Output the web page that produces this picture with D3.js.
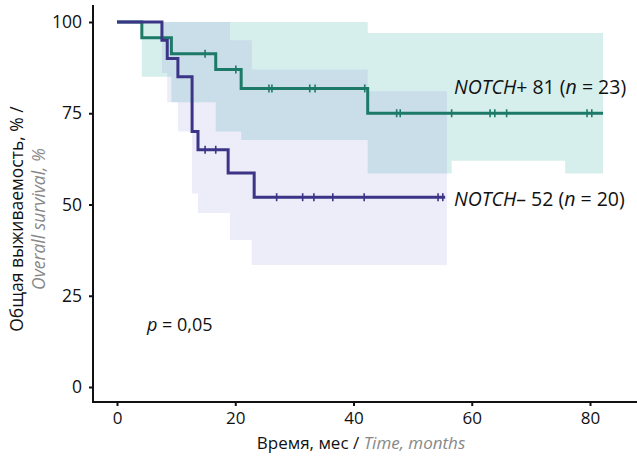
<!DOCTYPE html>
<html>
<head>
<meta charset="utf-8">
<script src="https://cdn.jsdelivr.net/npm/d3@7"></script>
<style>
  body { margin: 0; background: #fff; }
  svg { display: block; font-family: "Open Sans", sans-serif; }
</style>
</head>
<body>
<svg width="637" height="460"></svg>
<script>
// NOTCH+ curve (months, survival %)
const posTimes = [0, 4.2, 9.2, 16.7, 21, 42.4, 82.2];
const posSurv = [100, 95.7, 91.3, 87, 81.8, 75, 75];
const posCensor = [14.9, 20.1, 25.7, 26.2, 32.6, 33.5, 41.9, 47.3, 47.9, 56.6, 63.1, 63.9, 65.9, 79.5, 80.3];
// NOTCH- curve
const negTimes = [0, 7.6, 8.5, 10.3, 12.7, 13.7, 18.8, 23.2, 55.5];
const negSurv = [100, 95, 90, 85, 70, 65, 58.6, 52, 52];
const negCensor = [14.9, 16.7, 27, 31.4, 33.3, 36.5, 41.8, 54.3, 55.1];

// confidence bands (step starts)
const posBandTimes = [4.2, 9.2, 16.7, 21, 42.4, 56.6, 75.8, 82.2];
const posBandLow = [85, 78, 70, 67.7, 58.5, 62, 58.5, 58.5];
const posBandHigh = [100, 100, 100, 100, 97, 97, 97, 97];
const negBandTimes = [7.6, 8.5, 10.3, 12.7, 13.7, 19.1, 22.8, 42.4, 55.8];
const negBandLow = [86, 78, 70, 53, 47.7, 40.3, 33.4, 33.4, 33.4];
const negBandHigh = [100, 100, 100, 100, 100, 95, 87, 81, 81];

const xTicks = [0, 20, 40, 60, 80];
const yTicks = [0, 25, 50, 75, 100];

const svg = d3.select('svg');

const x = d3.scaleLinear().domain([0, 80]).range([117, 590]);
const y = d3.scaleLinear().domain([0, 100]).range([387, 22]);

const toPts = (ts, vs) => ts.map((t, i) => ({ t: t, v: vs[i] }));
const toBand = (ts, lo, hi) => ts.map((t, i) => ({ t: t, lo: lo[i], hi: hi[i] }));

const band = d3.area()
    .x(d => x(d.t))
    .y0(d => y(d.lo))
    .y1(d => y(d.hi))
    .curve(d3.curveStepAfter);

svg.append('path')
    .datum(toBand(posBandTimes, posBandLow, posBandHigh))
    .attr('d', band)
    .attr('fill', '#d6efec');

svg.append('path')
    .datum(toBand(negBandTimes, negBandLow, negBandHigh))
    .attr('d', band)
    .attr('fill', 'rgb(125,120,215)')
    .attr('fill-opacity', 0.14);

const line = d3.line()
    .x(d => x(d.t))
    .y(d => y(d.v))
    .curve(d3.curveStepAfter);

function stepValue(ts, vs, t) {
    let v = vs[0];
    ts.forEach((tt, i) => { if (tt <= t) v = vs[i]; });
    return v;
}

function drawCurve(ts, vs, cens, color) {
    svg.append('path')
        .datum(toPts(ts, vs))
        .attr('d', line)
        .attr('fill', 'none')
        .attr('stroke', color)
        .attr('stroke-width', 3);
    svg.append('g')
        .selectAll('line')
        .data(cens)
        .enter()
        .append('line')
        .attr('x1', d => x(d))
        .attr('x2', d => x(d))
        .attr('y1', d => y(stepValue(ts, vs, d)) - 4)
        .attr('y2', d => y(stepValue(ts, vs, d)) + 4)
        .attr('stroke', color)
        .attr('stroke-width', 1.6);
}

drawCurve(posTimes, posSurv, posCensor, '#1d7a68');
drawCurve(negTimes, negSurv, negCensor, '#3b3487');

// axes
const yAxis = svg.append('g')
    .attr('transform', 'translate(93,0)')
    .call(d3.axisLeft(y).tickValues(yTicks).tickSize(4).tickPadding(7));
const xAxis = svg.append('g')
    .attr('transform', 'translate(0,402)')
    .call(d3.axisBottom(x).tickValues(xTicks).tickSize(4).tickPadding(6));
[yAxis, xAxis].forEach(a => {
    a.select('.domain').remove();
    a.selectAll('text').attr('font-size', 17.5).attr('fill', '#111')
        .attr('font-family', '"Open Sans", sans-serif');
    a.selectAll('line').attr('stroke', '#111').attr('stroke-width', 2);
});
xAxis.selectAll('text').attr('font-size', 17);

svg.append('line').attr('x1', 93).attr('x2', 93).attr('y1', 5).attr('y2', 403)
    .attr('stroke', '#111').attr('stroke-width', 2);
svg.append('line').attr('x1', 92).attr('x2', 637).attr('y1', 402).attr('y2', 402)
    .attr('stroke', '#111').attr('stroke-width', 2);

// labels
const lab = svg.append('g').attr('font-size', 19.5).attr('fill', '#111');
const t1 = lab.append('text').attr('x', 454).attr('y', 94);
t1.append('tspan').attr('font-style', 'italic').text('NOTCH');
t1.append('tspan').text('+ 81 (');
t1.append('tspan').attr('font-style', 'italic').text('n');
t1.append('tspan').text(' = 23)');

const t2 = lab.append('text').attr('x', 454).attr('y', 206);
t2.append('tspan').attr('font-style', 'italic').text('NOTCH');
t2.append('tspan').text('– 52 (');
t2.append('tspan').attr('font-style', 'italic').text('n');
t2.append('tspan').text(' = 20)');

const t3 = lab.append('text').attr('x', 147).attr('y', 331).attr('font-size', 18);
t3.append('tspan').attr('font-style', 'italic').text('p');
t3.append('tspan').text(' = 0,05');

const xt = svg.append('text').attr('x', 361).attr('y', 449)
    .attr('text-anchor', 'middle').attr('font-size', 17).attr('fill', '#111');
xt.append('tspan').text('Время, мес / ');
xt.append('tspan').attr('font-style', 'italic').attr('fill', '#888').text('Time, months');

svg.append('text')
    .attr('transform', 'translate(23,219) rotate(-90)')
    .attr('text-anchor', 'middle').attr('font-size', 17.5).attr('fill', '#111')
    .text('Общая выживаемость, % /');
svg.append('text')
    .attr('transform', 'translate(45,219) rotate(-90)')
    .attr('text-anchor', 'middle').attr('font-size', 17.5).attr('fill', '#888')
    .attr('font-style', 'italic')
    .text('Overall survival, %');
</script>
</body>
</html>
